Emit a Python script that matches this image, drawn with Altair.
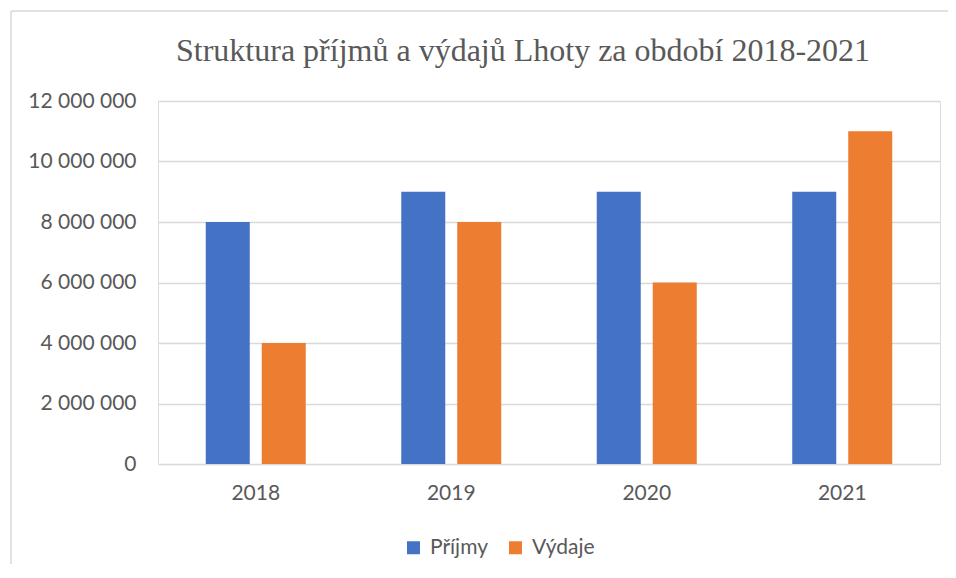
import altair as alt
import pandas as pd

years = ["2018", "2019", "2020", "2021"]
prijmy = [8000000, 9000000, 9000000, 9000000]
vydaje = [4000000, 8000000, 6000000, 11000000]
series = ["Příjmy", "Výdaje"]
colors = ["#4472C4", "#ED7D31"]
y_ticks = [0, 2000000, 4000000, 6000000, 8000000, 10000000, 12000000]

rows = []
for i, yr in enumerate(years):
    rows.append({"rok": yr, "serie": series[0], "hodnota": prijmy[i]})
    rows.append({"rok": yr, "serie": series[1], "hodnota": vydaje[i]})
df = pd.DataFrame(rows)

W, H = 782, 363
LABEL_FONT = "Lato"
GRAY = "#595959"

bars = alt.Chart(df).mark_bar().encode(
    x=alt.X("rok:N", sort=years, title=None,
            scale=alt.Scale(paddingInner=0.4885, paddingOuter=0.24425),
            axis=alt.Axis(labelAngle=0, ticks=False, domain=False, grid=False,
                          labelFont=LABEL_FONT, labelFontSize=21, labelColor=GRAY,
                          labelPadding=18)),
    xOffset=alt.XOffset("serie:N", sort=series,
                        scale=alt.Scale(paddingInner=0.214, paddingOuter=0)),
    y=alt.Y("hodnota:Q", title=None,
            scale=alt.Scale(domain=[0, 12000000], nice=False),
            axis=alt.Axis(values=y_ticks, ticks=False, domain=False,
                          gridColor="#d9d9d9", gridWidth=1.5,
                          labelFont=LABEL_FONT, labelFontSize=21, labelColor=GRAY,
                          labelPadding=22,
                          labelExpr="replace(format(datum.value, ','), regexp(',', 'g'), ' ')")),
    color=alt.Color("serie:N", sort=series,
                    scale=alt.Scale(domain=series, range=colors),
                    legend=alt.Legend(title=None, orient="none", direction="horizontal",
                                      legendX=245, legendY=436,
                                      symbolType="square", symbolSize=169,
                                      symbolStrokeWidth=0,
                                      labelFont=LABEL_FONT, labelFontSize=21,
                                      labelColor=GRAY, labelOffset=6,
                                      columnPadding=17)),
)

frame_v = alt.Chart(pd.DataFrame({"a": [0]})).mark_rule(color="#d9d9d9", strokeWidth=1.5).encode(
    x=alt.value(-147), y=alt.value(-90), y2=alt.value(H + 100))
frame_h = alt.Chart(pd.DataFrame({"a": [0]})).mark_rule(color="#d9d9d9", strokeWidth=1.5).encode(
    x=alt.value(-147), x2=alt.value(W + 8), y=alt.value(-90))

chart = alt.layer(bars, frame_v, frame_h).properties(
    width=W, height=H,
    title=alt.TitleParams("Struktura příjmů a výdajů Lhoty za období 2018-2021",
                          font="Liberation Serif", fontSize=32, fontWeight="normal",
                          color=GRAY, anchor="start", frame="group", dx=18,
                          baseline="alphabetic", offset=0, dy=83),
    autosize=alt.AutoSizeParams(type="none"),
    padding={"left": 150, "top": 93, "right": 8, "bottom": 100},
).configure_view(stroke=None).configure(background="white")

chart.save("out.html", embed_options={"renderer": "svg", "actions": False})
